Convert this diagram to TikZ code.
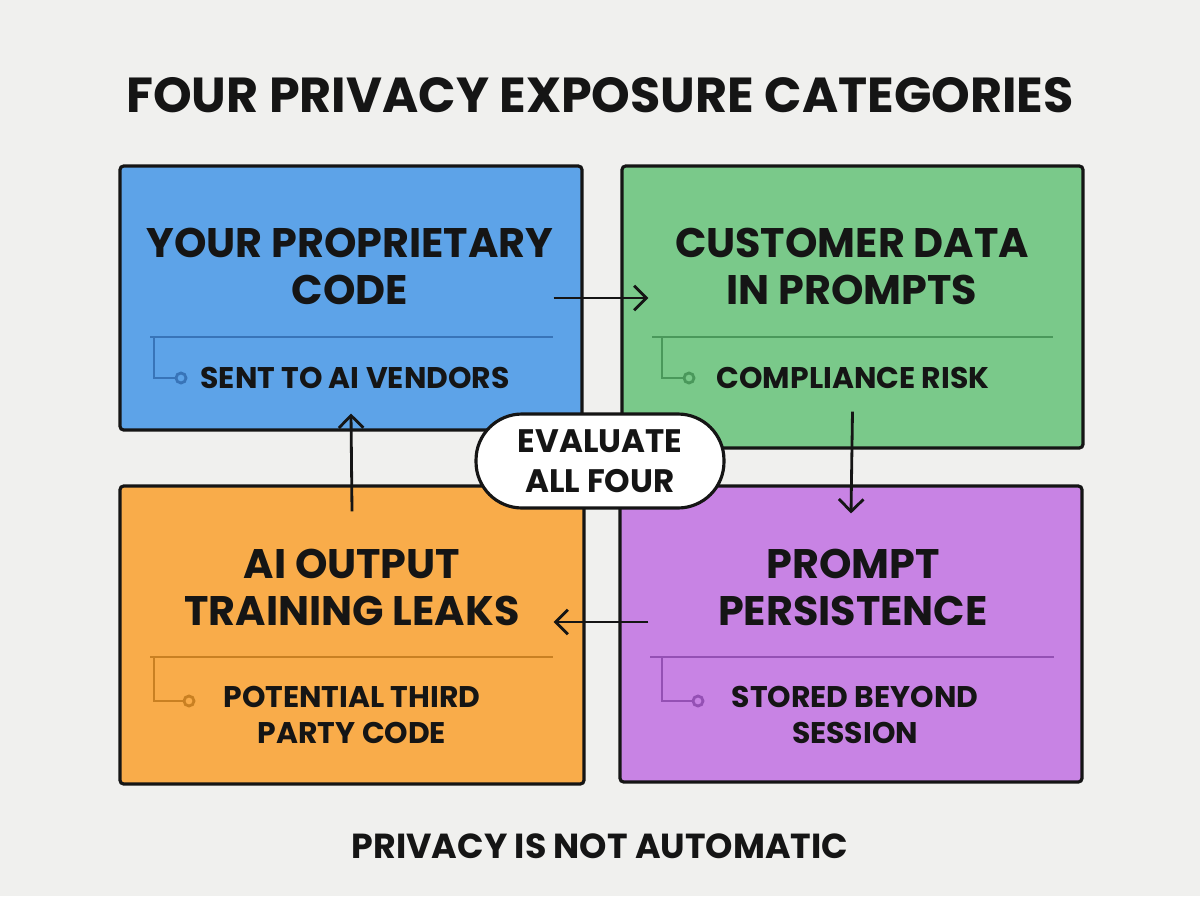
\documentclass[tikz,border=0pt]{standalone}
\usepackage{fontspec}
\setmainfont{Poppins}
\usetikzlibrary{arrows.meta,calc,positioning}
\definecolor{pagebg}{HTML}{F0F0EE}
\definecolor{ink}{HTML}{151515}
\definecolor{codeblue}{HTML}{5DA3E8}
\definecolor{codebluedk}{HTML}{3874B8}
\definecolor{custgreen}{HTML}{7AC98A}
\definecolor{custgreendk}{HTML}{4A985B}
\definecolor{leakorange}{HTML}{F9AC4A}
\definecolor{leakorangedk}{HTML}{C98022}
\definecolor{persistpurple}{HTML}{C883E4}
\definecolor{persistpurpledk}{HTML}{9450B4}
\tikzset{%
	card/.style     = {draw=ink, line width=1.8pt, rounded corners=2pt, minimum width=9.24cm},
	cardtitle/.style= {font=\bfseries\fontsize{23.5}{26.7}\selectfont, align=center, text=ink},
	cardnote/.style = {font=\bfseries\fontsize{17}{20.4}\selectfont, align=center, text=ink},
	pill/.style     = {draw=ink, fill=white, line width=1.8pt, rounded corners=0.92cm, minimum width=4.96cm, minimum height=1.88cm, font=\bfseries\fontsize{18.5}{22.7}\selectfont, align=center, text=ink},
	flow/.style     = {draw=ink, line width=1.6pt, -{Straight Barb[length=7pt,width=14pt]}},
	tick/.style     = {line width=1.6pt},
}
\begin{document}
\begin{tikzpicture}[x=0.02cm,y=-0.02cm]
	\fill[pagebg] (0,0) rectangle (1200,896);
	\useasboundingbox (0,0) rectangle (1200,896);
	
	\node[font=\bfseries\fontsize{28}{32}\selectfont, text=ink] (heading) at (600,95) {FOUR PRIVACY EXPOSURE CATEGORIES};
	
	% the four cards
	\node[card, fill=codeblue, minimum height=5.28cm] (code) at (351,298) {};
	\node[card, fill=custgreen, minimum height=5.64cm, minimum width=9.22cm] (cust) at (852.5,307) {};
	\node[card, fill=leakorange, minimum height=5.96cm, minimum width=9.28cm] (leak) at (352,635) {};
	\node[card, fill=persistpurple, minimum height=5.92cm] (persist) at (851,634) {};
	
	\node[cardtitle] (codetitle) at (350,266) {YOUR PROPRIETARY\\CODE};
	\node[cardtitle] (custtitle) at (852,266) {CUSTOMER DATA\\IN PROMPTS};
	\node[cardtitle] (leaktitle) at (352,587) {AI OUTPUT\\TRAINING LEAKS};
	\node[cardtitle] (persisttitle) at (853,587) {PROMPT\\PERSISTENCE};
	
	\node[cardnote] (codenote) at (355,378) {SENT TO AI VENDORS};
	\node[cardnote] (custnote) at (853,378) {COMPLIANCE RISK};
	\node[cardnote] (leaknote) at (352,715) {POTENTIAL THIRD\\PARTY CODE};
	\node[cardnote] (persistnote) at (855,715) {STORED BEYOND\\SESSION};
	
	% divider and hook under each title
	\draw[tick, codebluedk] (150,337) -- (553,337);
	\draw[tick, codebluedk] (154,337) |- (176,378);
	\draw[tick, codebluedk, fill=codeblue] (181,378) circle (0.1cm);
	
	\draw[tick, custgreendk] (652,337) -- (1053,337);
	\draw[tick, custgreendk] (662,337) |- (684,378);
	\draw[tick, custgreendk, fill=custgreen] (689,378) circle (0.1cm);
	
	\draw[tick, leakorangedk] (150,657) -- (553,657);
	\draw[tick, leakorangedk] (154,657) |- (184,701);
	\draw[tick, leakorangedk, fill=leakorange] (189,701) circle (0.1cm);
	
	\draw[tick, persistpurpledk] (650,657) -- (1054,657);
	\draw[tick, persistpurpledk] (662,657) |- (692,701);
	\draw[tick, persistpurpledk, fill=persistpurple] (698,701) circle (0.1cm);
	
	% cycle
	\draw[flow] ([xshift=-0.6cm]code.east) -- ([xshift=0.56cm]cust.west |- code.east);
	\draw[flow] ([yshift=0.76cm]cust.south) -- ([yshift=-0.58cm]persist.north);
	\draw[flow] ([xshift=0.6cm,yshift=0.24cm]persist.west) -- ([xshift=-0.64cm,yshift=0.24cm]leak.east |- persist.west);
	\draw[flow] ([yshift=-0.54cm]leak.north) -- ([yshift=0.36cm]code.south);
	
	\node[pill] (hub) at (600,461) {EVALUATE\\ALL FOUR};
	
	\node[font=\bfseries\fontsize{19.8}{24}\selectfont, text=ink] (footer) at (600,846) {PRIVACY IS NOT AUTOMATIC};
\end{tikzpicture}
\end{document}
